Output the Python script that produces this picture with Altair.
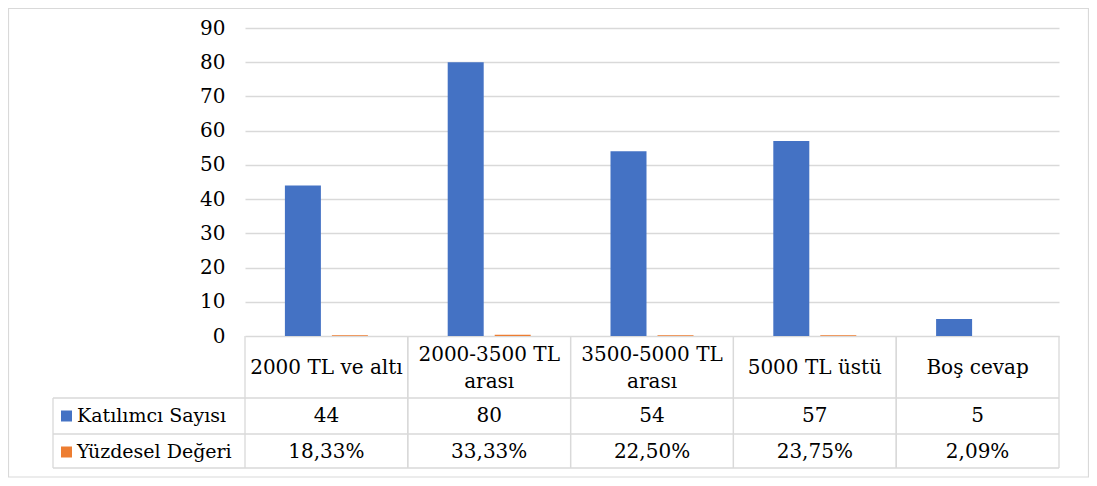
import altair as alt
import pandas as pd

# ---- data ----
categories = ["2000 TL ve altı", "2000-3500 TL arası", "3500-5000 TL arası", "5000 TL üstü", "Boş cevap"]
category_labels = ["2000 TL ve altı", "2000-3500 TL\narası", "3500-5000 TL\narası", "5000 TL üstü", "Boş cevap"]
series = ["Katılımcı Sayısı", "Yüzdesel Değeri"]
counts = [44, 80, 54, 57, 5]
percents = [18.33, 33.33, 22.50, 23.75, 2.09]
y_ticks = [0, 10, 20, 30, 40, 50, 60, 70, 80, 90]

# ---- style ----
W, H = 814, 308
FONT = "DejaVu Serif"
FS = 20
TXT = "#000000"
BLUE, ORANGE = "#4472C4", "#ED7D31"
GRID = "#D9D9D9"
LW = 1.3

bars_df = pd.DataFrame({
    "category": categories * 2,
    "series": [series[0]] * len(categories) + [series[1]] * len(categories),
    "value": counts + [p / 100 for p in percents],
})
table_df = pd.DataFrame({
    "category": categories,
    "label": category_labels,
    "nlines": [lab.count("\n") + 1 for lab in category_labels],
    "count": [str(c) for c in counts],
    "pct": [f"{p:.2f}".replace(".", ",") + "%" for p in percents],
})
one = pd.DataFrame({"series0": [series[0]], "series1": [series[1]]})

x_scale = alt.Scale(domain=categories, paddingInner=0, paddingOuter=0)


def xenc(**kw):
    return alt.X("category:N", scale=x_scale, axis=None, sort=categories, **kw)


bars = alt.Chart(bars_df).mark_bar().encode(
    x=xenc(),
    xOffset=alt.XOffset("series:N", sort=series,
                        scale=alt.Scale(domain=series, paddingInner=0.234, paddingOuter=0.849)),
    y=alt.Y("value:Q", scale=alt.Scale(domain=[0, 90], nice=False),
            axis=alt.Axis(values=y_ticks, title=None, domain=False, ticks=False,
                          labelPadding=20, labelFont=FONT, labelFontSize=20, labelColor=TXT,
                          grid=True, gridColor=GRID, gridWidth=LW)),
    color=alt.Color("series:N", scale=alt.Scale(domain=series, range=[BLUE, ORANGE]), legend=None),
)

text_kw = dict(font=FONT, fontSize=FS, color=TXT, baseline="middle")
head_kw = dict(font=FONT, fontSize=19, color=TXT, baseline="middle", align="left")

cat_text1 = alt.Chart(table_df).transform_filter("datum.nlines == 1").mark_text(**text_kw).encode(
    x=xenc(), y=alt.value(340), text="label:N")
cat_text2 = alt.Chart(table_df).transform_filter("datum.nlines > 1").mark_text(
    lineBreak="\n", lineHeight=27, **text_kw).encode(
    x=xenc(), y=alt.value(327), text="label:N")
count_text = alt.Chart(table_df).mark_text(**text_kw).encode(
    x=xenc(), y=alt.value(388), text="count:N")
pct_text = alt.Chart(table_df).mark_text(**text_kw).encode(
    x=xenc(), y=alt.value(424), text="pct:N")

head1 = alt.Chart(one).mark_text(**head_kw).encode(
    x=alt.value(-168), y=alt.value(388), text="series0:N")
head2 = alt.Chart(one).mark_text(**head_kw).encode(
    x=alt.value(-168), y=alt.value(424), text="series1:N")
key1 = alt.Chart(one).mark_square(size=121, opacity=1, color=BLUE).encode(
    x=alt.value(-178.5), y=alt.value(388))
key2 = alt.Chart(one).mark_square(size=121, opacity=1, color=ORANGE).encode(
    x=alt.value(-178.5), y=alt.value(424))

rule_kw = dict(color=GRID, strokeWidth=LW)
hlines = [
    alt.Chart(one).mark_rule(**rule_kw).encode(
        x=alt.value(-192), x2=alt.value(W), y=alt.value(yy))
    for yy in (370, 406, 440)
]
vleft = alt.Chart(one).mark_rule(**rule_kw).encode(
    x=alt.value(-192), y=alt.value(370), y2=alt.value(440))
vcols_l = alt.Chart(table_df).mark_rule(**rule_kw).encode(
    x=xenc(bandPosition=0), y=alt.value(H), y2=alt.value(440))
vcols_r = alt.Chart(table_df).mark_rule(**rule_kw).encode(
    x=xenc(bandPosition=1), y=alt.value(H), y2=alt.value(440))

border = alt.Chart(one).mark_rect(fillOpacity=0, stroke=GRID, strokeWidth=1.2).encode(
    x=alt.value(-236.5), x2=alt.value(843.5), y=alt.value(-19.5), y2=alt.value(449))

chart = alt.layer(
    border, bars, *hlines, vleft, vcols_l, vcols_r,
    cat_text1, cat_text2, count_text, pct_text, head1, head2, key1, key2,
).properties(
    width=W, height=H,
    autosize=alt.AutoSizeParams(type="none"),
    padding={"left": 237, "top": 20, "right": 30, "bottom": 142},
).configure_view(stroke=None)

chart.save("out.html", embed_options={"renderer": "svg", "actions": False})
